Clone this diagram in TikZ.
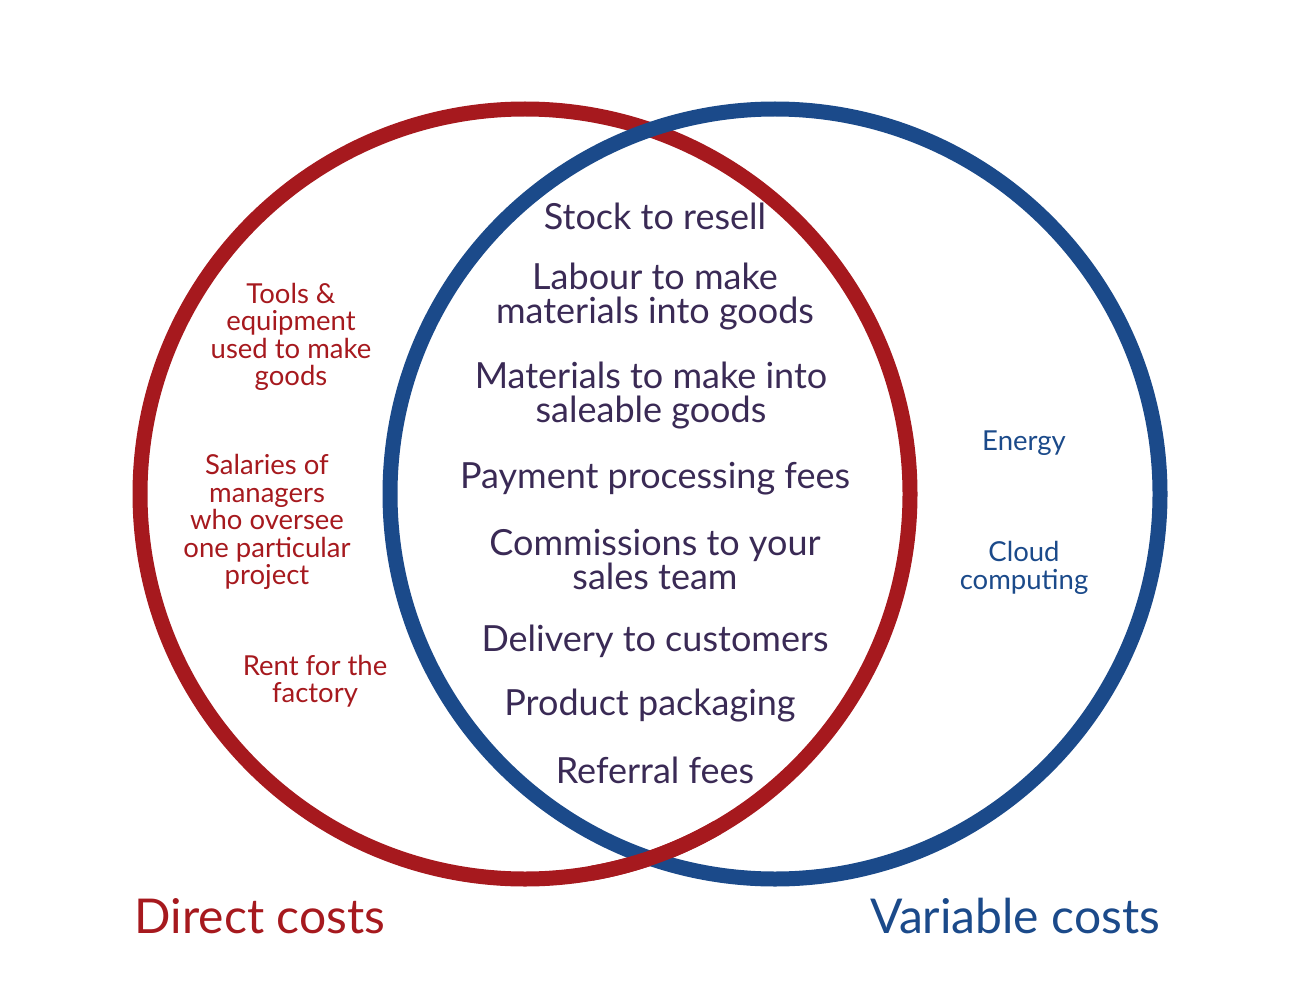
\documentclass[tikz,border=0pt]{standalone}
\usepackage{fontspec}
\setmainfont{Lato}
\definecolor{cred}{HTML}{A6191E}
\definecolor{cblue}{HTML}{1B4A8A}
\definecolor{cpur}{HTML}{3A2A55}
\begin{document}
\begin{tikzpicture}[x=1pt,y=-1pt,
  ring/.style={line width=15pt},
  mid/.style={text=cpur,font=\fontsize{36}{34}\selectfont,align=center},
  lft/.style={text=cred,font=\fontsize{27.5}{27.5}\selectfont,align=center},
  rgt/.style={text=cblue,font=\fontsize{27.5}{28}\selectfont,align=center},
  ttl/.style={font=\fontsize{48}{48}\selectfont}]
\useasboundingbox (0,0) rectangle (1300,1000);
\draw[ring,cred] (525,494) circle (385);
\draw[ring,cblue] (775,494) circle (385);
\draw[ring,cred] ([shift={(60:385)}]525,494) arc[start angle=60,end angle=80,radius=385];
\node[mid] (a) at (655,216) {Stock to resell};
\node[mid] (b) at (655,297) {Labour to make\\materials into goods};
\node[mid] (c) at (651,396) {Materials to make into\\saleable goods};
\node[mid] (d) at (655,479) {Payment processing fees};
\node[mid] (e) at (655,560) {Commissions to your\\sales team};
\node[mid] (f) at (655,641) {Delivery to customers};
\node[mid] (g) at (650,706) {Product packaging};
\node[mid] (h) at (655,770) {Referral fees};
\node[lft] (l1) at (291,337) {Tools \&\\equipment\\used to make\\goods};
\node[lft] (l2) at (267,522) {Salaries of\\managers\\who oversee\\one particular\\project};
\node[lft] (l3) at (315,681) {Rent for the\\factory};
\node[rgt] (r1) at (1024,443) {Energy};
\node[rgt] (r2) at (1024,568) {Cloud\\computing};
\node[ttl,text=cred] (t1) at (260,916) {Direct costs};
\node[ttl,text=cblue] (t2) at (1015,916) {Variable costs};
\end{tikzpicture}
\end{document}
